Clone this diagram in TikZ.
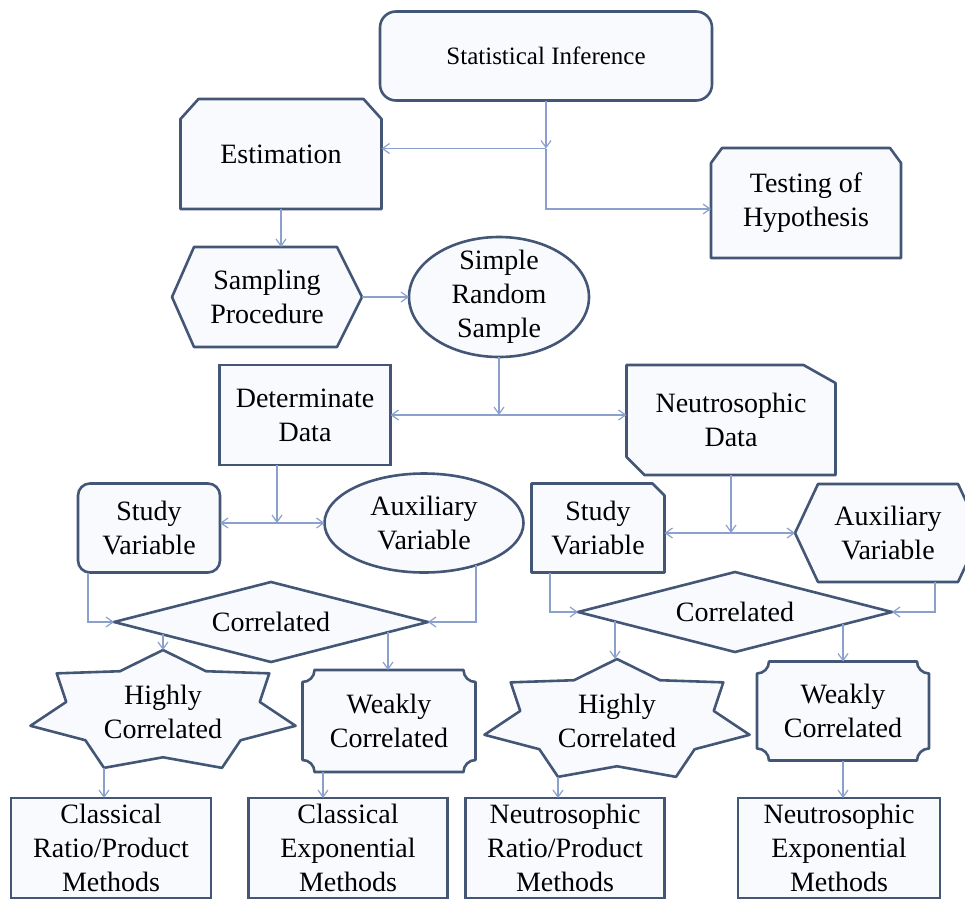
\documentclass[tikz,border=0pt]{standalone}
\usepackage{fontspec}
\setmainfont{Liberation Serif}
\usetikzlibrary{shapes.geometric,arrows.meta,calc,backgrounds}

\definecolor{boxline}{RGB}{67,86,117}
\definecolor{boxfill}{RGB}{248,250,254}
\definecolor{linkblue}{RGB}{140,160,205}

\tikzset{
  box/.style={draw=boxline, fill=boxfill, line width=2.6pt, align=center, inner sep=0pt, outer sep=0pt, font=\fontsize{28}{34}\selectfont},
  plain/.style={align=center, inner sep=0pt, outer sep=0pt, font=\fontsize{28}{34}\selectfont},
  outline/.style={draw=boxline, fill=boxfill, line width=2.6pt, line join=round},
  link/.style={draw=linkblue, line width=1.2pt, -{Straight Barb[length=7pt,width=10pt]}},
}

% seven point star round a node: name, x radius, y radius
\newcommand\sevenstar[3]{%
  \draw[outline] ($(#1)+(0,-#3)$) \foreach \k in {1,...,13}{
      -- ($(#1)+({#2*(1-0.27*mod(\k,2))*cos(90-\k*360/14)},{-#3*(1-0.27*mod(\k,2))*sin(90-\k*360/14)})$)} -- cycle;}

% box with hollow corners round a node
\newcommand\plaque[1]{%
  \draw[outline] ([xshift=12pt]#1.north west) -- ([xshift=-12pt]#1.north east)
      arc[start angle=180, end angle=270, radius=12pt] -- ([yshift=12pt]#1.south east)
      arc[start angle=90, end angle=180, radius=12pt] -- ([xshift=12pt]#1.south west)
      arc[start angle=0, end angle=90, radius=12pt] -- ([yshift=-12pt]#1.north west)
      arc[start angle=270, end angle=360, radius=12pt] -- cycle;}

\begin{document}
\begin{tikzpicture}[x=1pt, y=-1pt]
\useasboundingbox (0,0) rectangle (965,899);

% top part
\node[box, rounded corners=16pt, minimum width=332pt, minimum height=89pt, font=\fontsize{25}{30}\selectfont] (si) at (546,56) {Statistical Inference};
\node[plain, minimum width=201pt, minimum height=110pt] (est) at (281,154) {Estimation};
\node[plain, minimum width=190pt, minimum height=110pt] (test) at (806,203) {Testing of\\Hypothesis};
\node[plain, minimum width=190pt, minimum height=100pt] (samp) at (267,297) {Sampling\\Procedure};
\node[box, ellipse, inner ysep=-6pt, minimum width=180pt, minimum height=120pt] (srs) at (499,297) {Simple\\Random\\Sample};

% data
\node[box, minimum width=171pt, minimum height=100pt] (dd) at (305,415) {Determinate\\Data};
\node[plain, minimum width=209pt, minimum height=110pt] (nd) at (731,420) {Neutrosophic\\Data};

% variables
\node[box, rounded corners=12pt, minimum width=142pt, minimum height=89pt] (sv1) at (149,528) {Study\\Variable};
\node[box, ellipse, minimum width=199pt, minimum height=99pt] (av1) at (424,523) {Auxiliary\\Variable};
\node[plain, minimum width=133pt, minimum height=89pt] (sv2) at (598,528) {Study\\Variable};
\node[plain, minimum width=186pt, minimum height=98pt] (av2) at (888,533) {Auxiliary\\Variable};

\node[box, diamond, aspect=3.9, minimum width=314pt, minimum height=80pt] (cor1) at (271,622) {Correlated};
\node[box, diamond, aspect=3.9, minimum width=314pt, minimum height=80pt] (cor2) at (735,612) {Correlated};

% strength
\node[plain] (hc1) at (163,712) {Highly\\Correlated};
\node[plain, minimum width=173pt, minimum height=102pt] (wc1) at (389,721) {Weakly\\Correlated};
\node[plain] (hc2) at (617,721) {Highly\\Correlated};
\node[plain, minimum width=172pt, minimum height=99pt] (wc2) at (843,711) {Weakly\\Correlated};

% methods
\node[box, minimum width=200pt, minimum height=100pt] (crp) at (111,848) {Classical\\Ratio/Product\\Methods};
\node[box, minimum width=199pt, minimum height=100pt] (cem) at (348,848) {Classical\\Exponential\\Methods};
\node[box, minimum width=199pt, minimum height=100pt] (nrp) at (565,848) {Neutrosophic\\Ratio/Product\\Methods};
\node[box, minimum width=202pt, minimum height=100pt] (nem) at (839,848) {Neutrosophic\\Exponential\\Methods};

\begin{pgfonlayer}{background}
\draw[outline] ([xshift=18pt]est.north west) -- ([xshift=-18pt]est.north east) -- ([yshift=-20pt]est.north east)
    -- (est.south east) -- (est.south west) -- ([yshift=-20pt]est.north west) -- cycle;
\draw[outline] ([xshift=11pt]test.north west) -- ([xshift=-11pt]test.north east) -- ([yshift=-15pt]test.north east)
    -- (test.south east) -- (test.south west) -- ([yshift=-15pt]test.north west) -- cycle;
\draw[outline] (samp.west) -- ([xshift=22pt]samp.north west) -- ([xshift=-25pt]samp.north east) -- (samp.east)
    -- ([xshift=-25pt]samp.south east) -- ([xshift=22pt]samp.south west) -- cycle;
\draw[outline] (nd.north west) -- ([xshift=-32pt]nd.north east) -- ([yshift=-18pt]nd.north east)
    -- (nd.south east) -- ([xshift=18pt]nd.south west) -- ([yshift=18pt]nd.south west) -- cycle;
\draw[outline] (sv2.north west) -- ([xshift=-12pt]sv2.north east) -- ([yshift=-12pt]sv2.north east)
    -- (sv2.south east) -- (sv2.south west) -- cycle;
\draw[outline] (av2.west) -- ([xshift=23pt]av2.north west) -- ([xshift=-23pt]av2.north east) -- (av2.east)
    -- ([xshift=-23pt]av2.south east) -- ([xshift=23pt]av2.south west) -- cycle;
\sevenstar{hc1}{136}{62}
\sevenstar{hc2}{136}{62}
\plaque{wc1}
\plaque{wc2}
\end{pgfonlayer}

\coordinate (hc1top) at ($(hc1)+(0,-62)$);
\coordinate (hc1foot) at ($(hc1)+(-59,56)$);
\coordinate (hc2top) at ($(hc2)+(0,-62)$);
\coordinate (hc2foot) at ($(hc2)+(-59,56)$);

% connectors
\coordinate (j1) at ([yshift=-48pt]si.south);
\draw[link] (si) -- (j1);
\draw[link] (j1) -- (est.east |- j1);
\draw[link] (j1) |- ([yshift=-6pt]test.west);
\draw[link] (est.south) -- (est.south |- samp.north);
\draw[link] (samp.east) -- (srs);

\coordinate (j2) at ([yshift=-58pt]srs.south);
\draw[link] (srs) -- (j2);
\draw[link] (j2) -- (dd);
\draw[link] (j2) -- (nd.west |- j2);

\coordinate (j3) at ([xshift=-28pt, yshift=-58pt]dd.south);
\draw[link] (j3 |- dd.south) -- (j3);
\draw[link] (j3) -- (sv1.east |- j3);
\draw[link] (j3) -- (av1);

\coordinate (j4) at ([yshift=-58pt]nd.south);
\draw[link] (nd) -- (j4);
\draw[link] (j4) -- (sv2.east |- j4);
\draw[link] (j4) -- (av2.west |- j4);

\draw[link] ([xshift=-61pt]sv1.south) |- (cor1.west);
\draw[link] (av1.-39) |- (cor1.east);
\draw[link] ([xshift=-48pt]sv2.south) |- (cor2.west);
\draw[link] ([xshift=47pt]av2.south) |- (cor2.east);

\coordinate (c1a) at ($(cor1.west)!0.312!(cor1.south)$);
\coordinate (c1b) at ($(cor1.south)!0.745!(cor1.east)$);
\coordinate (c2a) at ($(cor2.west)!0.236!(cor2.south)$);
\coordinate (c2b) at ($(cor2.south)!0.688!(cor2.east)$);
\draw[link] (c1a) -- (c1a |- hc1top);
\draw[link] (c1b) -- (c1b |- wc1.north);
\draw[link] (c2a) -- (c2a |- hc2top);
\draw[link] (c2b) -- (c2b |- wc2.north);

\coordinate (wc1foot) at ([xshift=-66pt]wc1.south);
\draw[link] (hc1foot) -- (hc1foot |- crp.north);
\draw[link] (wc1foot) -- (wc1foot |- cem.north);
\draw[link] (hc2foot) -- (hc2foot |- nrp.north);
\draw[link] (wc2.south) -- (wc2.south |- nem.north);
\end{tikzpicture}
\end{document}
